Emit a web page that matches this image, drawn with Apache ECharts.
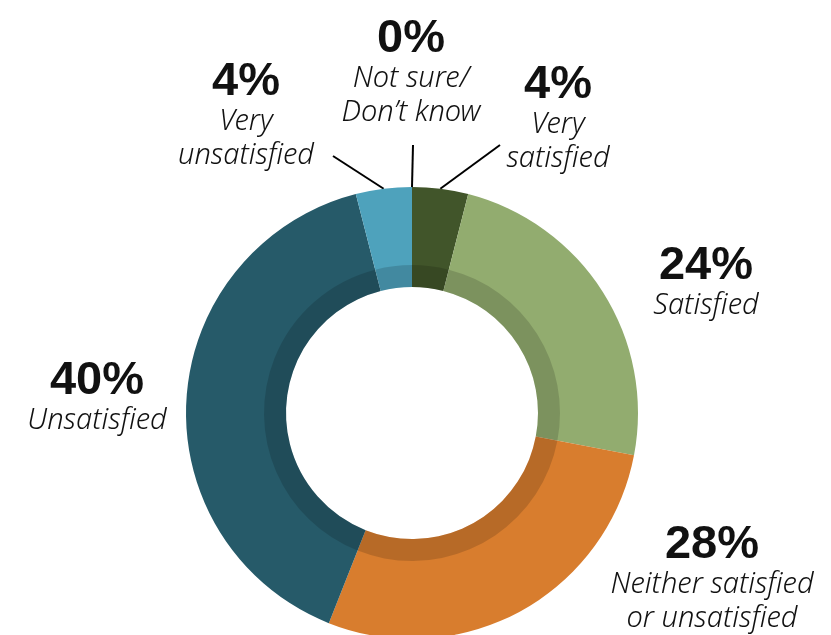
<!DOCTYPE html>
<html>
<head>
<meta charset="utf-8">
<script src="https://cdn.jsdelivr.net/npm/echarts@6/dist/echarts.min.js"></script>
<style>
  html, body { margin: 0; padding: 0; background: #ffffff; }
  #chart { width: 831px; height: 635px; }
</style>
</head>
<body>
<div id="chart"></div>
<script>
// Survey answers, clockwise from 12 o'clock
const categories = ['Very\nsatisfied', 'Satisfied', 'Neither satisfied\nor unsatisfied', 'Unsatisfied', 'Very\nunsatisfied', 'Not sure/\nDon\u2019t know'];
const values = [4, 24, 28, 40, 4, 0];
const colors = ['#41552a', '#92ac6f', '#d87d2e', '#265a69', '#4ea2bc', '#3d5a80'];

// Where each label block sits (centre x, centre y) and, for the thin slices, where its leader line ends
const labelSpots = [
  { x: 558, y: 119, lineEnd: [500, 145] },
  { x: 706, y: 283 },
  { x: 712, y: 579 },
  { x: 97, y: 398 },
  { x: 246, y: 116, lineEnd: [333, 156] },
  { x: 411, y: 73, lineEnd: [413, 145] }
];

const chart = echarts.init(document.getElementById('chart'), null, { renderer: 'canvas' });

const seriesData = categories.map((name, i) => ({
  name: name,
  value: values[i],
  itemStyle: { color: colors[i] }
}));

const option = {
  backgroundColor: '#ffffff',
  animation: false,
  series: [
    {
      type: 'pie',
      center: [412, 413],
      radius: [126, 226],
      startAngle: 90,
      clockwise: true,
      minShowLabelAngle: 0,
      stillShowZeroSum: true,
      avoidLabelOverlap: false,
      data: seriesData,
      label: {
        show: true,
        position: 'outside',
        formatter: p => '{p|' + p.value + '%}\n{t|' + p.name.split('\n').join('}\n{t|') + '}',
        rich: {
          p: {
            fontFamily: '"Liberation Sans Narrow", "Liberation Sans", Arial, sans-serif',
            fontWeight: 'bold',
            fontSize: 47,
            lineHeight: 46,
            color: '#111111',
            align: 'center'
          },
          t: {
            fontFamily: '"Noto Sans", "DejaVu Sans", sans-serif',
            fontStyle: 'italic',
            fontWeight: 300,
            fontSize: 29,
            lineHeight: 34,
            color: '#111111',
            align: 'center'
          }
        }
      },
      labelLine: {
        show: true,
        lineStyle: { color: '#000000', width: 2 }
      },
      labelLayout: function (params) {
        const spot = labelSpots[params.dataIndex];
        const out = { x: spot.x, y: spot.y, align: 'center', verticalAlign: 'middle' };
        if (spot.lineEnd && params.labelLinePoints) {
          const start = params.labelLinePoints[0];
          out.labelLinePoints = [start, spot.lineEnd, spot.lineEnd];
        } else {
          out.labelLinePoints = [[0, 0], [0, 0], [0, 0]];
        }
        return out;
      }
    },
    {
      // darker inner band of the ring
      type: 'pie',
      center: [412, 413],
      radius: [126, 148],
      startAngle: 90,
      clockwise: true,
      silent: true,
      data: categories.map((name, i) => ({ name: name, value: values[i] })),
      itemStyle: { color: 'rgba(0,0,0,0.15)' },
      label: { show: false },
      labelLine: { show: false }
    }
  ]
};

chart.setOption(option);
</script>
</body>
</html>
